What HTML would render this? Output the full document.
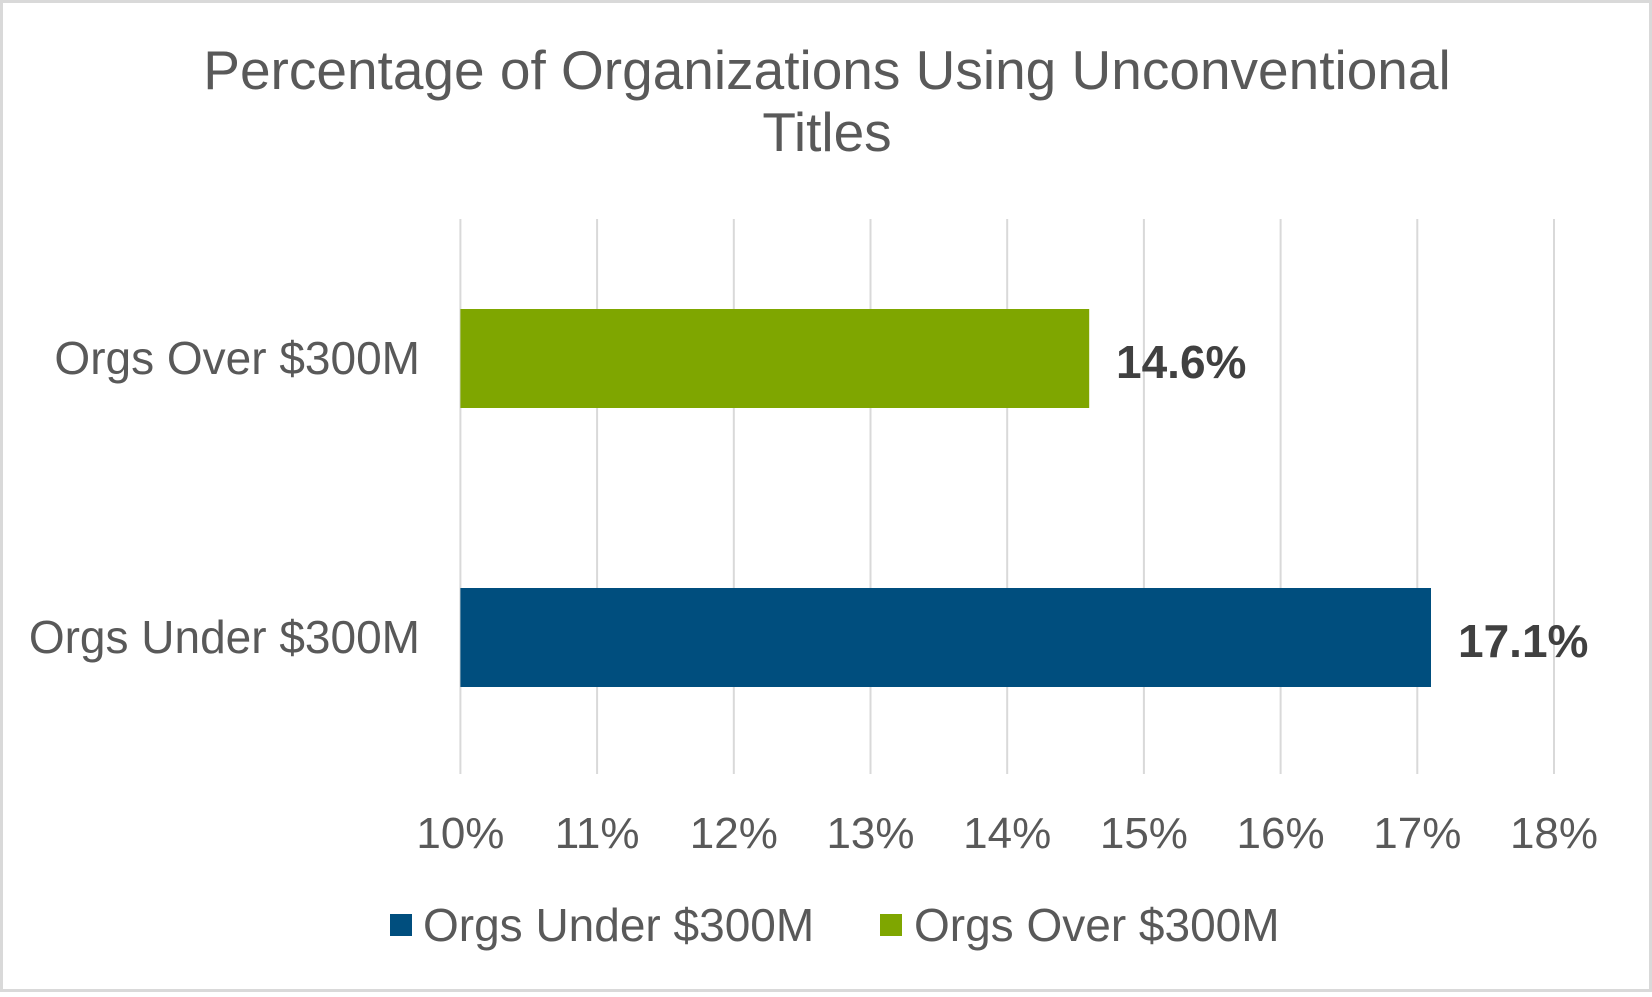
<!DOCTYPE html>
<html><head><style>
body{margin:0;width:1652px;height:992px;overflow:hidden;background:#fff}
</style></head><body>
<svg width="1652" height="992" xmlns="http://www.w3.org/2000/svg" font-family="Liberation Sans, Arial, sans-serif">
<rect x="1.5" y="1.5" width="1649" height="989" fill="#fff" stroke="#d9d9d9" stroke-width="3"/>
<text x="827" y="89" font-size="55" fill="#595959" text-anchor="middle">Percentage of Organizations Using Unconventional</text>
<text x="827" y="151" font-size="55" fill="#595959" text-anchor="middle">Titles</text>
<g stroke="#d9d9d9" stroke-width="2">
<line x1="460.4" y1="219" x2="460.4" y2="774"/>
<line x1="597.1" y1="219" x2="597.1" y2="774"/>
<line x1="733.8" y1="219" x2="733.8" y2="774"/>
<line x1="870.5" y1="219" x2="870.5" y2="774"/>
<line x1="1007.2" y1="219" x2="1007.2" y2="774"/>
<line x1="1143.9" y1="219" x2="1143.9" y2="774"/>
<line x1="1280.6" y1="219" x2="1280.6" y2="774"/>
<line x1="1417.3" y1="219" x2="1417.3" y2="774"/>
<line x1="1554" y1="219" x2="1554" y2="774"/>
</g>
<rect x="460.4" y="309" width="628.8" height="99" fill="#7fa600"/>
<rect x="460.4" y="588" width="970.6" height="99" fill="#004e7e"/>
<g font-size="46" fill="#595959" text-anchor="end">
<text x="420" y="374">Orgs Over $300M</text>
<text x="420" y="653">Orgs Under $300M</text>
</g>
<g font-size="46" font-weight="bold" fill="#404040">
<text x="1116" y="378">14.6%</text>
<text x="1458" y="657">17.1%</text>
</g>
<g font-size="44" fill="#595959" text-anchor="middle">
<text x="460.4" y="848">10%</text>
<text x="597.1" y="848">11%</text>
<text x="733.8" y="848">12%</text>
<text x="870.5" y="848">13%</text>
<text x="1007.2" y="848">14%</text>
<text x="1143.9" y="848">15%</text>
<text x="1280.6" y="848">16%</text>
<text x="1417.3" y="848">17%</text>
<text x="1554" y="848">18%</text>
</g>
<rect x="390" y="914" width="22" height="22" fill="#004e7e"/>
<text x="423" y="941" font-size="46" fill="#595959">Orgs Under $300M</text>
<rect x="880" y="914" width="22" height="22" fill="#7fa600"/>
<text x="914" y="941" font-size="46" fill="#595959">Orgs Over $300M</text>
</svg>
</body></html>
